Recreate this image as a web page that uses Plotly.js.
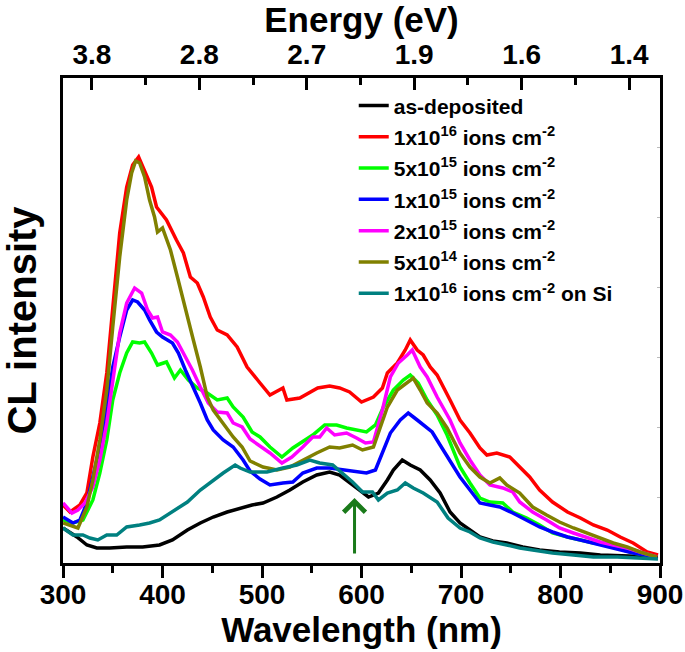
<!DOCTYPE html>
<html>
<head>
<meta charset="utf-8">
<script src="https://cdn.plot.ly/plotly-3.0.1.min.js"></script>
<style>html,body{margin:0;padding:0;background:#fff;}#plot{width:685px;height:652px;}</style>
</head>
<body>
<div id="plot"></div>
<script>
// ---- data (wavelength in nm, CL intensity in arbitrary units) ----
const seriesNames = [
  "as-deposited",
  "1x10<sup>16</sup> ions cm<sup>-2</sup>",
  "5x10<sup>15</sup> ions cm<sup>-2</sup>",
  "1x10<sup>15</sup> ions cm<sup>-2</sup>",
  "2x10<sup>15</sup> ions cm<sup>-2</sup>",
  "5x10<sup>14</sup> ions cm<sup>-2</sup>",
  "1x10<sup>16</sup> ions cm<sup>-2</sup> on Si"
];
const seriesColors = ["#000000","#ff0000","#00ff00","#0000ff","#ff00ff","#808000","#008080"];

const wlAsDep = [300,314,324,334,347,364,380,397,410,425,438,451,465,478,490,501,515,528,541,555,568,578,588,598,607,617,626,632,641,649,659,669,679,689,699,709,719,732,746,762,779,799,820,840,863,898];
const clAsDep = [35,26,18,15,15,16,16,18,23,33,40,46,51,55,58,60,66,73,81,88,91,88,81,73,66,70,83,93,103,98,93,83,70,51,40,33,26,22,20,16,13,11,10,8,7,6];

const wl1e16 = [300,307,317,324,330,337,344,350,357,364,370,376,382,389,394,404,414,421,428,435,441,448,455,465,475,485,498,508,521,525,538,548,556,568,578,588,600,612,621,626,636,644,649,656,662,669,676,689,699,709,719,726,736,749,759,769,779,792,807,820,833,847,860,873,887,898];
const cl1e16 = [58,51,58,70,106,140,190,256,330,376,398,406,393,376,356,343,323,310,286,280,266,246,233,228,216,196,180,168,175,163,165,171,175,177,175,171,161,166,175,190,200,213,223,213,208,196,188,163,143,130,115,108,110,106,96,86,73,61,51,45,38,33,26,20,11,8];

const wl5e15 = [300,310,320,330,337,344,350,357,364,370,377,382,389,395,404,412,418,426,435,445,455,465,471,481,490,498,508,520,531,541,551,563,575,585,595,605,614,622,632,642,649,657,666,676,686,699,709,719,729,742,752,766,779,792,807,820,833,847,860,873,897];
const cl5e15 = [43,40,43,63,90,123,163,190,210,221,220,221,210,198,201,185,193,183,175,170,163,165,156,146,131,126,116,106,115,121,128,138,138,135,133,131,138,156,173,183,188,180,163,148,128,96,80,65,61,60,51,45,38,30,26,23,20,18,14,10,6];

const wl1e15 = [300,310,317,324,330,337,344,350,357,364,370,375,382,387,394,400,410,416,423,431,438,445,451,461,471,481,488,498,508,521,531,541,555,568,581,595,605,614,621,629,639,647,656,662,671,679,689,699,709,719,729,739,752,766,779,792,807,820,833,847,860,873,897];
const cl1e15 = [46,40,43,60,86,116,156,196,226,253,263,261,253,243,231,226,220,210,193,176,160,143,133,123,116,103,92,84,78,80,81,90,95,95,93,91,90,93,110,130,143,150,143,138,131,118,102,86,73,60,58,56,50,43,36,31,26,23,20,16,13,10,6];

const wl2e15 = [300,309,315,322,330,337,344,350,357,364,372,379,385,390,395,400,408,415,421,430,438,446,455,465,471,480,488,498,508,520,530,541,551,558,565,573,585,595,604,612,621,629,637,646,651,659,666,676,689,699,709,719,729,742,752,759,772,786,799,813,827,840,853,867,880,897];
const cl2e15 = [60,50,53,60,76,103,140,183,230,260,275,270,253,245,246,231,228,221,210,193,176,160,151,150,140,136,124,117,110,100,106,116,126,126,135,128,130,125,120,121,153,186,200,208,213,196,186,166,143,120,103,88,78,75,71,61,51,43,35,30,25,21,18,15,11,6];

const wl5e14 = [300,315,324,330,337,344,350,357,364,369,373,377,382,387,392,395,400,408,415,423,431,438,445,451,461,471,480,488,501,515,528,541,555,568,578,591,601,612,619,626,636,646,652,659,666,676,686,699,709,719,729,739,746,759,772,786,799,813,827,840,853,867,880,897];
const cl5e14 = [40,35,56,83,123,173,236,306,363,390,402,400,386,363,346,331,335,313,286,253,223,196,166,153,140,126,116,102,96,93,96,103,110,116,115,118,113,116,136,156,173,181,185,173,160,150,135,110,96,86,80,85,78,70,56,48,41,35,30,25,20,16,11,6];

const wlOnSi = [300,310,320,327,335,344,354,364,377,387,397,410,425,438,451,461,473,478,488,505,521,535,548,558,571,581,591,601,611,617,626,636,644,652,662,676,687,699,709,719,732,746,759,772,792,813,833,857,880,898];
const clOnSi = [35,28,28,25,23,28,28,36,38,40,43,51,61,73,83,90,98,95,91,91,95,98,103,100,98,90,81,71,71,63,70,73,80,75,70,61,45,35,31,25,21,18,15,13,10,8,6,6,5,4];

const seriesX = [wlAsDep, wl1e16, wl5e15, wl1e15, wl2e15, wl5e14, wlOnSi];
const seriesY = [clAsDep, cl1e16, cl5e15, cl1e15, cl2e15, cl5e14, clOnSi];

// top axis (energy) tick positions in wavelength and their labels
const energyTickWl = [329,437,545,653,761,869];
const energyTickText = ["3.8","2.8","2.7","1.9","1.6","1.4"];
const rightTickVals = [66,136,206,276,346,416];
const arrowWl = 593, arrowTip = 65, arrowTail = 8;

const FONT = "Liberation Sans, Arial, Helvetica, sans-serif";

const traces = seriesNames.map((n, i) => ({
  x: seriesX[i], y: seriesY[i], name: n, type: 'scatter', mode: 'lines',
  line: {color: seriesColors[i], width: 3.5},
  legendgroup: 'g' + i
}));
traces.push({x:[300,900], y:[0,485], xaxis:'x2', yaxis:'y2', mode:'lines', line:{width:0},
  opacity:0, showlegend:false, hoverinfo:'skip'});

const layout = {
  width: 685, height: 652,
  margin: {l: 63, r: 25, t: 78, b: 89},
  paper_bgcolor: '#fff', plot_bgcolor: '#fff',
  font: {family: FONT, color: '#000', weight: 'bold'},
  showlegend: true,
  legend: {x: 0.487, y: 0.985, xanchor: 'left', yanchor: 'top', bgcolor: 'rgba(0,0,0,0)',
    font: {family: FONT, size: 21, weight: 'bold', color: '#000'},
    traceorder: 'grouped', tracegroupgap: 1},
  xaxis: {range: [300, 900], tickmode: 'linear', tick0: 300, dtick: 100,
    ticks: 'outside', ticklen: 12, tickwidth: 3, tickcolor: '#000',
    minor: {dtick: 50, ticks: 'outside', ticklen: 7, tickwidth: 3, tickcolor: '#000'},
    showline: true, linewidth: 3, linecolor: '#000', showgrid: false, zeroline: false,
    ticklabelstandoff: -8,
    tickfont: {family: FONT, size: 28, weight: 'bold'},
    title: {text: 'Wavelength (nm)', font: {family: FONT, size: 35, weight: 'bold'}, standoff: 2}},
  xaxis2: {overlaying: 'x', side: 'top', anchor: 'y', range: [300, 900],
    tickmode: 'array', tickvals: energyTickWl, ticktext: energyTickText,
    ticks: 'inside', ticklen: 12, tickwidth: 3, tickcolor: '#000',
    minor: {tick0: 329, dtick: 54, ticks: 'inside', ticklen: 7, tickwidth: 3, tickcolor: '#000'},
    showline: true, linewidth: 3, linecolor: '#000', showgrid: false, zeroline: false,
    tickfont: {family: FONT, size: 28, weight: 'bold'},
    title: {text: 'Energy (eV)', font: {family: FONT, size: 35, weight: 'bold'}, standoff: 6}},
  yaxis: {range: [0, 485], showticklabels: false, ticks: '', showline: true, linewidth: 3,
    linecolor: '#000', mirror: true, showgrid: false, zeroline: false,
    title: {text: 'CL intensity', font: {family: FONT, size: 40, weight: 'bold'}, standoff: 23}},
  yaxis2: {overlaying: 'y', side: 'right', anchor: 'x', range: [0, 485], tickmode: 'array',
    tickvals: rightTickVals, ticks: 'inside', ticklen: 3, tickwidth: 1, tickcolor: '#bbb',
    showticklabels: false, showline: false, showgrid: false, zeroline: false},
  annotations: [{x: arrowWl, y: arrowTip, ax: arrowWl, ay: arrowTail, xref: 'x', yref: 'y',
    axref: 'x', ayref: 'y', showarrow: true, arrowhead: 4, arrowsize: 1.4, arrowwidth: 3,
    arrowcolor: '#1a7a1a', text: ''}]
};

Plotly.newPlot('plot', traces, layout, {displayModeBar: false, staticPlot: true});
</script>
</body>
</html>
